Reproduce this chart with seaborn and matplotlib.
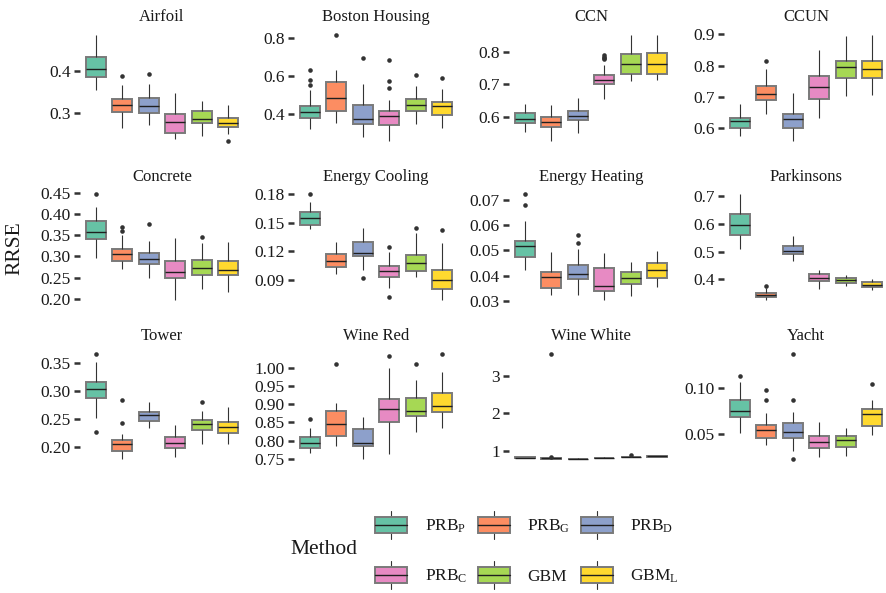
import numpy as np
import pandas as pd
import matplotlib
matplotlib.use("Agg")
import matplotlib.pyplot as plt
import seaborn as sns
from matplotlib.patches import Patch, Rectangle
from matplotlib.lines import Line2D
from matplotlib.legend_handler import HandlerBase

# ---------------- data (five-number summaries) -------------
methods = ["PRB_P", "PRB_G", "PRB_D", "PRB_C", "GBM", "GBM_L"]
method_labels = [r"PRB$_\mathrm{P}$", r"PRB$_\mathrm{G}$", r"PRB$_\mathrm{D}$",
                 r"PRB$_\mathrm{C}$", "GBM", r"GBM$_\mathrm{L}$"]
palette = ["#66C2A5", "#FC8D62", "#8DA0CB", "#E78AC3", "#A6D854", "#FFD92F"]

datasets = ["Airfoil", "Boston Housing", "CCN", "CCUN",
            "Concrete", "Energy Cooling", "Energy Heating", "Parkinsons",
            "Tower", "Wine Red", "Wine White", "Yacht"]

# [lower whisker, Q1, median, Q3, upper whisker] per method
airfoil = [[0.354, 0.385, 0.404, 0.432, 0.485], [0.264, 0.303, 0.319, 0.333, 0.366],
           [0.271, 0.301, 0.316, 0.335, 0.369], [0.239, 0.254, 0.279, 0.298, 0.347],
           [0.245, 0.276, 0.287, 0.305, 0.329], [0.251, 0.268, 0.278, 0.289, 0.319]]
airfoil_out = [[], [0.387], [0.393], [], [], [0.235]]

boston = [[0.320, 0.379, 0.409, 0.445, 0.525], [0.355, 0.419, 0.487, 0.570, 0.633],
          [0.282, 0.351, 0.374, 0.450, 0.557], [0.261, 0.341, 0.388, 0.419, 0.473],
          [0.351, 0.414, 0.450, 0.477, 0.546], [0.329, 0.398, 0.440, 0.466, 0.529]]
boston_out = [[0.551, 0.581, 0.633], [0.814], [0.694], [0.536, 0.572, 0.685], [0.603], [0.588]]

ccn = [[0.555, 0.581, 0.594, 0.613, 0.639], [0.528, 0.571, 0.586, 0.601, 0.636],
       [0.552, 0.590, 0.605, 0.620, 0.660], [0.656, 0.700, 0.715, 0.729, 0.759],
       [0.711, 0.732, 0.761, 0.793, 0.851], [0.713, 0.733, 0.761, 0.795, 0.851]]
ccn_out = [[], [], [], [0.777, 0.781, 0.785, 0.789], [], []]

ccun = [[0.576, 0.602, 0.623, 0.634, 0.679], [0.647, 0.690, 0.711, 0.735, 0.790],
        [0.561, 0.601, 0.629, 0.647, 0.714], [0.633, 0.693, 0.733, 0.766, 0.849],
        [0.703, 0.760, 0.794, 0.815, 0.894], [0.706, 0.759, 0.790, 0.815, 0.897]]
ccun_out = [[], [0.813], [], [], [], []]

concrete = [[0.295, 0.340, 0.357, 0.382, 0.416], [0.269, 0.290, 0.306, 0.316, 0.351],
            [0.248, 0.282, 0.294, 0.307, 0.337], [0.197, 0.248, 0.263, 0.288, 0.343],
            [0.224, 0.257, 0.273, 0.291, 0.331], [0.216, 0.255, 0.268, 0.288, 0.334]]
concrete_out = [[0.446], [0.359, 0.370], [0.376], [], [0.345], []]

cooling = [[0.143, 0.148, 0.155, 0.161, 0.1716], [0.096, 0.103, 0.110, 0.117, 0.130],
           [0.1008, 0.115, 0.118, 0.130, 0.144], [0.0816, 0.0928, 0.099, 0.105, 0.119],
           [0.0931, 0.0994, 0.1078, 0.1165, 0.139], [0.0687, 0.0806, 0.090, 0.1001, 0.1287]]
cooling_out = [[0.180], [], [0.0914], [0.0722, 0.124], [0.144], [0.1423]]

heating = [[0.0424, 0.0474, 0.0518, 0.0535, 0.0614], [0.0324, 0.0352, 0.0395, 0.0415, 0.0493],
           [0.0324, 0.0388, 0.0408, 0.0444, 0.0504], [0.0304, 0.0338, 0.0359, 0.0431, 0.0490],
           [0.0320, 0.0367, 0.0392, 0.0415, 0.0454], [0.0355, 0.0392, 0.0424, 0.0450, 0.0496]]
heating_out = [[0.0679, 0.0721], [], [0.0529, 0.0559], [], [], []]

parkinsons = [[0.508, 0.559, 0.598, 0.635, 0.708], [0.324, 0.334, 0.341, 0.351, 0.366],
              [0.466, 0.492, 0.503, 0.519, 0.555], [0.363, 0.393, 0.404, 0.418, 0.433],
              [0.3755, 0.385, 0.395, 0.404, 0.416], [0.360, 0.373, 0.380, 0.388, 0.400]]
parkinsons_out = [[], [0.376], [], [], [], []]

tower = [[0.2518, 0.2875, 0.302, 0.315, 0.3506], [0.177, 0.1917, 0.204, 0.211, 0.222],
         [0.233, 0.245, 0.256, 0.262, 0.279], [0.181, 0.197, 0.206, 0.217, 0.238],
         [0.205, 0.230, 0.240, 0.247, 0.264], [0.205, 0.224, 0.235, 0.244, 0.270]]
tower_out = [[0.226, 0.366], [0.242, 0.284], [], [], [0.279], []]

winered = [[0.767, 0.781, 0.795, 0.811, 0.834], [0.787, 0.813, 0.845, 0.881, 0.9045],
           [0.749, 0.785, 0.793, 0.832, 0.864], [0.763, 0.850, 0.888, 0.913, 1.000],
           [0.8245, 0.867, 0.881, 0.918, 0.967], [0.836, 0.878, 0.894, 0.931, 0.987]]
winered_out = [[0.859], [1.011], [], [1.031], [1.011], [1.038]]

winewhite = [[0.805, 0.815, 0.820, 0.826, 0.835], [0.785, 0.792, 0.797, 0.802, 0.812],
             [0.770, 0.780, 0.785, 0.790, 0.798], [0.795, 0.803, 0.808, 0.814, 0.823],
             [0.825, 0.833, 0.838, 0.845, 0.855], [0.838, 0.847, 0.852, 0.858, 0.866]]
winewhite_out = [[], [0.84, 3.60], [], [], [0.89], []]

yacht = [[0.0511, 0.0685, 0.0754, 0.0866, 0.1062], [0.0377, 0.046, 0.054, 0.0594, 0.0728],
         [0.0312, 0.046, 0.0522, 0.0616, 0.0739], [0.025, 0.0348, 0.0413, 0.0482, 0.063],
         [0.0257, 0.0355, 0.0431, 0.0478, 0.0565], [0.0486, 0.0591, 0.0717, 0.0772, 0.0873]]
yacht_out = [[0.1138], [0.0866, 0.0975], [0.0221, 0.0866, 0.1377], [], [], [0.1047]]

stats_list = [airfoil, boston, ccn, ccun, concrete, cooling, heating, parkinsons,
              tower, winered, winewhite, yacht]
outs_list = [airfoil_out, boston_out, ccn_out, ccun_out, concrete_out, cooling_out,
             heating_out, parkinsons_out, tower_out, winered_out, winewhite_out, yacht_out]

yticks_list = [[0.3, 0.4], [0.4, 0.6, 0.8], [0.6, 0.7, 0.8], [0.6, 0.7, 0.8, 0.9],
               [0.20, 0.25, 0.30, 0.35, 0.40, 0.45], [0.09, 0.12, 0.15, 0.18],
               [0.03, 0.04, 0.05, 0.06, 0.07], [0.4, 0.5, 0.6, 0.7],
               [0.20, 0.25, 0.30, 0.35], [0.75, 0.80, 0.85, 0.90, 0.95, 1.00],
               [1, 2, 3], [0.05, 0.10]]
ytick_decimals = [1, 1, 1, 1, 2, 2, 2, 1, 2, 2, 0, 2]

# ---------------- style -------------
sns.set_style("white")
plt.rcParams["font.family"] = ["Liberation Serif", "DejaVu Serif"]
plt.rcParams["mathtext.fontset"] = "custom"
plt.rcParams["mathtext.rm"] = "Liberation Serif"
plt.rcParams["mathtext.it"] = "Liberation Serif:italic"

W, H = 886, 593
fig = plt.figure(figsize=(W / 100, H / 100), dpi=100)

lefts = [80, 294, 509, 724]
tops = [29.7, 189, 348.4]
pw, ph = 164, 116.3

box_edge = "#7a7a7a"
line_col = "#333333"

for i, name in enumerate(datasets):
    r, c = divmod(i, 4)
    ax = fig.add_axes([lefts[c] / W, 1 - (tops[r] + ph) / H, pw / W, ph / H])
    rows = []
    for m, s in zip(methods, stats_list[i]):
        for v in s:
            rows.append({"Method": m, "RRSE": v})
    df = pd.DataFrame(rows)
    orows = []
    for m, o in zip(methods, outs_list[i]):
        for v in o:
            orows.append({"Method": m, "RRSE": v})
    odf = pd.DataFrame(orows, columns=["Method", "RRSE"])

    sns.boxplot(data=df, x="Method", y="RRSE", hue="Method", order=methods,
                hue_order=methods, palette=palette, saturation=1, width=0.75,
                whis=np.inf, showfliers=False, showcaps=False, legend=False, ax=ax,
                boxprops={"edgecolor": box_edge, "linewidth": 1.4},
                medianprops={"color": "#1f1f1f", "linewidth": 1.0},
                whiskerprops={"color": line_col, "linewidth": 0.8})
    if len(odf):
        sns.stripplot(data=odf, x="Method", y="RRSE", order=methods, jitter=False,
                      color=line_col, size=3.3, linewidth=0, ax=ax)

    allv = list(df["RRSE"]) + list(odf["RRSE"])
    lo, hi = min(allv), max(allv)
    pad = 0.05 * (hi - lo)
    ax.set_ylim(lo - pad, hi + pad)
    ax.set_xlim(-0.6, 5.6)
    ax.set_xticks([])
    ax.set_xlabel("")
    ax.set_ylabel("")
    yt = yticks_list[i]
    ax.set_yticks(yt)
    ax.set_yticklabels([f"{v:.{ytick_decimals[i]}f}" for v in yt])
    ax.tick_params(axis="y", left=True, length=4.5, width=1.8, color=line_col,
                   pad=2, labelsize=12.5, labelcolor="#1a1a1a")
    for sp in ax.spines.values():
        sp.set_visible(False)
    ax.set_title(name, fontsize=12, pad=6, color="#1a1a1a")
    ax.patch.set_alpha(0)

fig.text(15 / W, 1 - 248 / H, "RRSE", rotation=90, ha="center", va="center",
         fontsize=15.5, color="#1a1a1a")


# ---------------- legend -------------
class BoxHandler(HandlerBase):
    def create_artists(self, legend, orig_handle, xdescent, ydescent, width,
                       height, fontsize, trans):
        color = orig_handle.get_facecolor()
        x0, y0 = -xdescent, -ydescent
        bh = height * 0.58
        by = y0 + (height - bh) / 2
        cx = x0 + width / 2
        w1 = Line2D([cx, cx], [y0, by], color=line_col, lw=0.8, transform=trans)
        w2 = Line2D([cx, cx], [by + bh, y0 + height], color=line_col, lw=0.8,
                    transform=trans)
        rect = Rectangle((x0, by), width, bh, facecolor=color, edgecolor=box_edge,
                         lw=1.4, transform=trans)
        med = Line2D([x0, x0 + width], [by + bh / 2] * 2, color="#1f1f1f", lw=1.0,
                     transform=trans)
        return [w1, w2, rect, med]


handles = [Patch(facecolor=c) for c in palette]
order = [0, 3, 1, 4, 2, 5]
leg = fig.legend([handles[k] for k in order], [method_labels[k] for k in order],
                 handler_map={Patch: BoxHandler()}, ncol=3, loc="center",
                 bbox_to_anchor=(527 / W, 1 - 550 / H), frameon=False,
                 fontsize=12.5, handlelength=1.85, handleheight=2.1,
                 handletextpad=1.0, columnspacing=0.6, labelspacing=1.3,
                 borderpad=0)
for t in leg.get_texts():
    t.set_color("#1a1a1a")

fig.text(290 / W, 1 - 550 / H, "Method", ha="left", va="center", fontsize=15.5,
         color="#1a1a1a")

fig.savefig("out.png", dpi=100)
